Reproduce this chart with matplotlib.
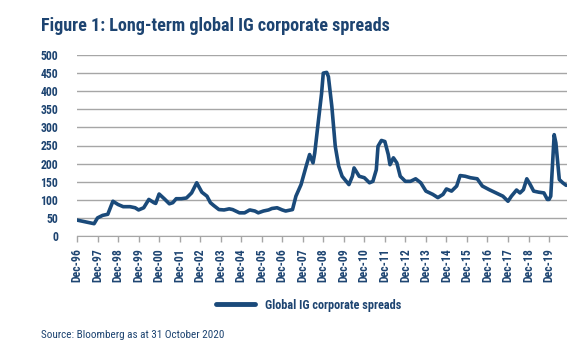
import numpy as np
import pandas as pd
import matplotlib
matplotlib.use("Agg")
import matplotlib.pyplot as plt

plt.rcParams['font.family'] = ['Roboto Condensed', 'DejaVu Sans']

# spread observations (bp), month stamps
dates = ["1996-12", "1997-06", "1997-10", "1997-12", "1998-03", "1998-06", "1998-09",
         "1998-12", "1999-03", "1999-07", "1999-10", "1999-12", "2000-03", "2000-06",
         "2000-09", "2000-10", "2000-12", "2001-03", "2001-06", "2001-08", "2001-10",
         "2002-01", "2002-04", "2002-07", "2002-10", "2003-01", "2003-04", "2003-06",
         "2003-08", "2003-11", "2004-02", "2004-05", "2004-07", "2004-11", "2005-02",
         "2005-05", "2005-08", "2005-10", "2006-01", "2006-04", "2006-06", "2006-09",
         "2006-12", "2007-02", "2007-06", "2007-08", "2007-11", "2008-02", "2008-04",
         "2008-06", "2008-07", "2008-09", "2008-11", "2008-12", "2009-02", "2009-03",
         "2009-05", "2009-07", "2009-09", "2009-11", "2010-03", "2010-05", "2010-06",
         "2010-09", "2010-12", "2011-03", "2011-05", "2011-07", "2011-08", "2011-10",
         "2011-12", "2012-02", "2012-03", "2012-05", "2012-07", "2012-09", "2012-12",
         "2013-03", "2013-06", "2013-09", "2013-12", "2014-04", "2014-07", "2014-10",
         "2014-12", "2015-03", "2015-06", "2015-08", "2015-11", "2016-02", "2016-06",
         "2016-09", "2017-01", "2017-05", "2017-09", "2017-12", "2018-02", "2018-05",
         "2018-07", "2018-09", "2018-11", "2019-01", "2019-03", "2019-06", "2019-09",
         "2019-11", "2019-12", "2020-01", "2020-03", "2020-04", "2020-06", "2020-08",
         "2020-10"]
spreads = [44, 38, 34, 50, 57, 60, 96,
           87, 81, 81, 78, 72, 78, 101,
           92, 90, 116, 103, 89, 92, 103,
           103, 105, 119, 147, 121, 110, 92,
           84, 73, 72, 75, 73, 64, 64,
           72, 69, 64, 69, 72, 76, 78,
           72, 69, 73, 110, 142, 193, 225,
           202, 229, 312, 394, 450, 452, 440,
           358, 248, 193, 165, 142, 165, 188,
           165, 161, 147, 151, 183, 248, 264,
           261, 225, 197, 216, 202, 165, 151,
           151, 158, 147, 124, 115, 106, 115,
           130, 124, 138, 167, 165, 161, 158,
           138, 128, 119, 110, 96, 110, 127,
           119, 128, 158, 142, 124, 121, 119,
           101, 101, 110, 280, 257, 156, 147,
           140]
tick_years = list(range(1996, 2020))

navy = '#1d4471'
line_col = '#1a4a7a'

d = pd.to_datetime(dates)
months = (d.year - 1996) * 12 + (d.month - 12)

fig = plt.figure(figsize=(5.77, 3.45), dpi=100)
ax = fig.add_axes([77/577, 1 - 236/345, 490/577, 181/345])

ax.plot(months, spreads, color=line_col, lw=2.6, solid_joinstyle='round',
        solid_capstyle='round', label='Global IG corporate spreads')

ax.set_ylim(0, 500)
ax.set_yticks(range(0, 501, 50))
ax.set_xlim(0, 286.5)
ticks = [(y - 1996) * 12 for y in tick_years]
ax.set_xticks(ticks)
ax.set_xticklabels(['Dec-%02d' % (y % 100) for y in tick_years], rotation=90)
ax.grid(True, axis='y', color='#a6a6a6', lw=1)
ax.set_axisbelow(True)
for s in ['left', 'right', 'top']:
    ax.spines[s].set_visible(False)
ax.spines['bottom'].set_color('#a6a6a6')
ax.tick_params(axis='x', colors='#a6a6a6', length=4, width=1, labelcolor=navy,
               labelsize=8.5, pad=5)
ax.tick_params(axis='y', length=0, labelcolor=navy, labelsize=8.5, pad=13.5)
for lbl in ax.get_xticklabels() + ax.get_yticklabels():
    lbl.set_fontweight('bold')

fig.text(41/577, 1 - 26/345, 'Figure 1: Long-term global IG corporate spreads',
         color=navy, fontsize=13.1, fontweight='bold', va='center')

leg = fig.legend(loc='center', bbox_to_anchor=(309/577, 1 - 305/345), frameon=False,
                 prop={'weight': 'bold', 'size': 8.8}, handlelength=3.2,
                 handletextpad=0.8)
for t in leg.get_texts():
    t.set_color(navy)
for h in leg.get_lines():
    h.set_linewidth(3.5)

fig.text(41/577, 1 - 335/345, 'Source: Bloomberg as at 31 October 2020',
         color=navy, fontsize=8, va='center')

fig.savefig('out.png', dpi=100)
